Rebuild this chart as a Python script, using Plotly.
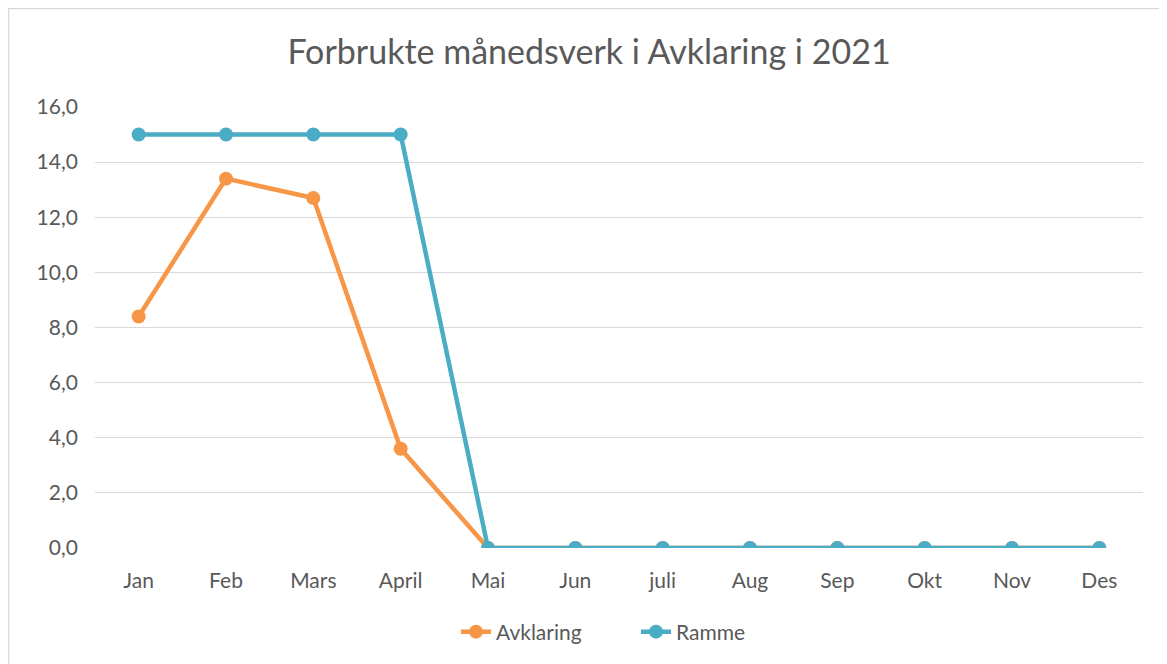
import plotly.graph_objects as go

months = ["Jan", "Feb", "Mars", "April", "Mai", "Jun", "juli", "Aug", "Sep", "Okt", "Nov", "Des"]
avklaring = [8.4, 13.4, 12.7, 3.6, 0, 0, 0, 0, 0, 0, 0, 0]
ramme = [15, 15, 15, 15, 0, 0, 0, 0, 0, 0, 0, 0]
y_ticks = [0, 2, 4, 6, 8, 10, 12, 14, 16]
y_tick_labels = [f"{v:.1f}".replace(".", ",") for v in y_ticks]

FONT = "Lato, Open Sans, sans-serif"
OFF = 8  # default body margin of the html page
W, H = 1167 - OFF, 664 - OFF
L, R, T, B = 95 - OFF, 24, 107 - OFF, 116
pw, ph = W - L - R, H - T - B

fig = go.Figure()
fig.add_trace(go.Scatter(x=months, y=avklaring, name="Avklaring", mode="lines+markers",
                         line=dict(color="#F79646", width=4.5),
                         marker=dict(size=14, color="#F79646")))
fig.add_trace(go.Scatter(x=months, y=ramme, name="Ramme", mode="lines+markers",
                         line=dict(color="#4BACC6", width=4.5),
                         marker=dict(size=14, color="#4BACC6")))

def px_x(x):
    # window pixel -> paper coordinate
    return (x - OFF - L) / pw

def px_y(y):
    return 1 - (y - OFF - T) / ph

fig.update_layout(
    width=W, height=H,
    margin=dict(l=L, r=R, t=T, b=B),
    paper_bgcolor="white", plot_bgcolor="white",
    title=dict(text="Forbrukte månedsverk i Avklaring i 2021", x=(589 - OFF) / W, xanchor="center",
               y=1 - (52 - OFF) / H, yanchor="middle",
               font=dict(family=FONT, size=34, color="#595959")),
    font=dict(family=FONT, color="#595959", size=21),
    xaxis=dict(type="category", range=[-0.5, 11.5], showgrid=False, showline=False,
               ticks="", tickfont=dict(size=21, color="#595959"), fixedrange=True,
               ticklabelstandoff=18),
    yaxis=dict(range=[0, 16], tickvals=y_ticks,
               ticktext=[t + "\u00a0" * 3 for t in y_tick_labels],
               showgrid=True, gridcolor="#D9D9D9", gridwidth=1.3, zeroline=False,
               showline=False, ticks="", automargin=False,
               tickfont=dict(size=21, color="#595959")),
    showlegend=True,
    legend=dict(orientation="h", x=px_x(456), xanchor="left", y=px_y(632), yanchor="middle",
                font=dict(size=21, color="#595959"), tracegroupgap=0,
                entrywidth=135, entrywidthmode="pixels"),
    shapes=[dict(type="rect", xref="paper", yref="paper",
                 x0=px_x(8.5), x1=px_x(1200), y0=px_y(700), y1=px_y(8.5),
                 line=dict(color="#D9D9D9", width=1.5), layer="below")],
)

fig.write_html("out.html")
